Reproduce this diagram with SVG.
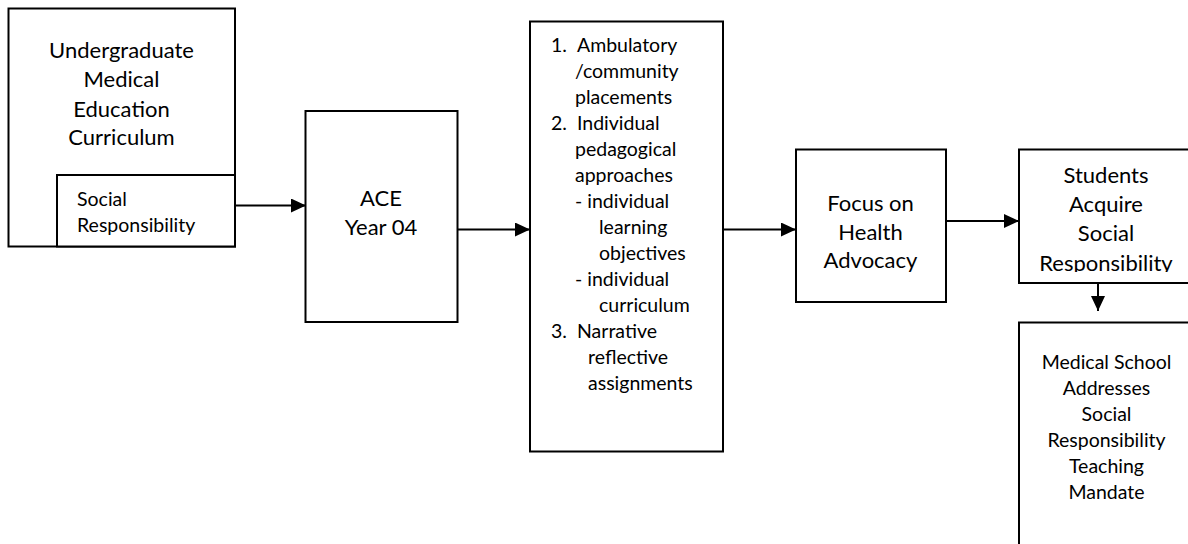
<svg xmlns="http://www.w3.org/2000/svg" width="1188" height="544" viewBox="0 0 1188 544">
<style>
  .box { fill: #ffffff; stroke: #000000; stroke-width: 2; }
  .t { font-family: Lato, "Open Sans", sans-serif; fill: #000000; }
  .big { font-size: 22px; text-anchor: middle; }
  .small { font-size: 19.5px; }
  .smallc { font-size: 19.5px; text-anchor: middle; }
  .conn { stroke: #000000; stroke-width: 2; fill: none; }
</style>
<defs>
  <marker id="ah" viewBox="0 0 15 14" refX="15" refY="7" markerWidth="15" markerHeight="14" markerUnits="userSpaceOnUse" orient="auto">
    <path d="M0,0 L15,7 L0,14 Z" fill="#000000"/>
  </marker>
  <clipPath id="clip5"><rect x="1019" y="149" width="200" height="123"/></clipPath>
</defs>
<rect width="1188" height="544" fill="#ffffff"/>

<g id="node-curriculum">
  <rect class="box" x="8.5" y="8.5" width="226.5" height="238"/>
  <text class="t big" x="121.5" y="57.5">Undergraduate</text>
  <text class="t big" x="121.5" y="87">Medical</text>
  <text class="t big" x="121.5" y="116.5">Education</text>
  <text class="t big" x="121.5" y="144.5">Curriculum</text>
</g>
<g id="node-social-responsibility">
  <rect class="box" x="57" y="175" width="178" height="71.5"/>
  <text class="t small" x="77" y="205.5">Social</text>
  <text class="t small" x="77" y="232">Responsibility</text>
</g>

<g id="node-ace">
  <rect class="box" x="305.5" y="111" width="152" height="211"/>
  <text class="t big" x="381" y="206">ACE</text>
  <text class="t big" x="381" y="235">Year 04</text>
</g>

<g id="node-approaches">
  <rect class="box" x="530" y="21.5" width="193" height="430"/>
  <text class="t small" x="551" y="52">1.</text>
  <text class="t small" x="577" y="52">Ambulatory</text>
  <text class="t small" x="575" y="78">/community</text>
  <text class="t small" x="575" y="104">placements</text>
  <text class="t small" x="551" y="130">2.</text>
  <text class="t small" x="577" y="130">Individual</text>
  <text class="t small" x="575" y="156">pedagogical</text>
  <text class="t small" x="575" y="181.5">approaches</text>
  <text class="t small" x="575" y="207.5">- individual</text>
  <text class="t small" x="599" y="233.5">learning</text>
  <text class="t small" x="599" y="259.5">objectives</text>
  <text class="t small" x="575" y="285.5">- individual</text>
  <text class="t small" x="599" y="311.5">curriculum</text>
  <text class="t small" x="551" y="337.5">3.</text>
  <text class="t small" x="577" y="337.5">Narrative</text>
  <text class="t small" x="588" y="363.5">reflective</text>
  <text class="t small" x="588" y="389.5">assignments</text>
</g>

<g id="node-health-advocacy">
  <rect class="box" x="796" y="149.5" width="150" height="152.5"/>
  <text class="t big" x="870.5" y="210.5">Focus on</text>
  <text class="t big" x="870.5" y="239.5">Health</text>
  <text class="t big" x="870.5" y="268">Advocacy</text>
</g>

<g id="node-students">
  <rect class="box" x="1019" y="149.5" width="200" height="133.5"/>
  <g clip-path="url(#clip5)">
    <text class="t big" x="1106" y="182.5">Students</text>
    <text class="t big" x="1106" y="211.5">Acquire</text>
    <text class="t big" x="1106" y="240.5">Social</text>
    <text class="t big" x="1106" y="270.5">Responsibility</text>
  </g>
</g>

<g id="node-mandate">
  <rect class="box" x="1019" y="322.5" width="200" height="240"/>
  <text class="t smallc" x="1106.5" y="369">Medical School</text>
  <text class="t smallc" x="1106.5" y="395">Addresses</text>
  <text class="t smallc" x="1106.5" y="421">Social</text>
  <text class="t smallc" x="1106.5" y="447">Responsibility</text>
  <text class="t smallc" x="1106.5" y="473">Teaching</text>
  <text class="t smallc" x="1106.5" y="499">Mandate</text>
</g>

<g id="connectors">
  <line class="conn" x1="235" y1="205.5" x2="306" y2="205.5" marker-end="url(#ah)"/>
  <line class="conn" x1="457.5" y1="229.5" x2="530" y2="229.5" marker-end="url(#ah)"/>
  <line class="conn" x1="723" y1="229.5" x2="796" y2="229.5" marker-end="url(#ah)"/>
  <line class="conn" x1="946" y1="221" x2="1019" y2="221" marker-end="url(#ah)"/>
  <line class="conn" x1="1098" y1="283" x2="1098" y2="311" marker-end="url(#ah)"/>
</g>
</svg>
